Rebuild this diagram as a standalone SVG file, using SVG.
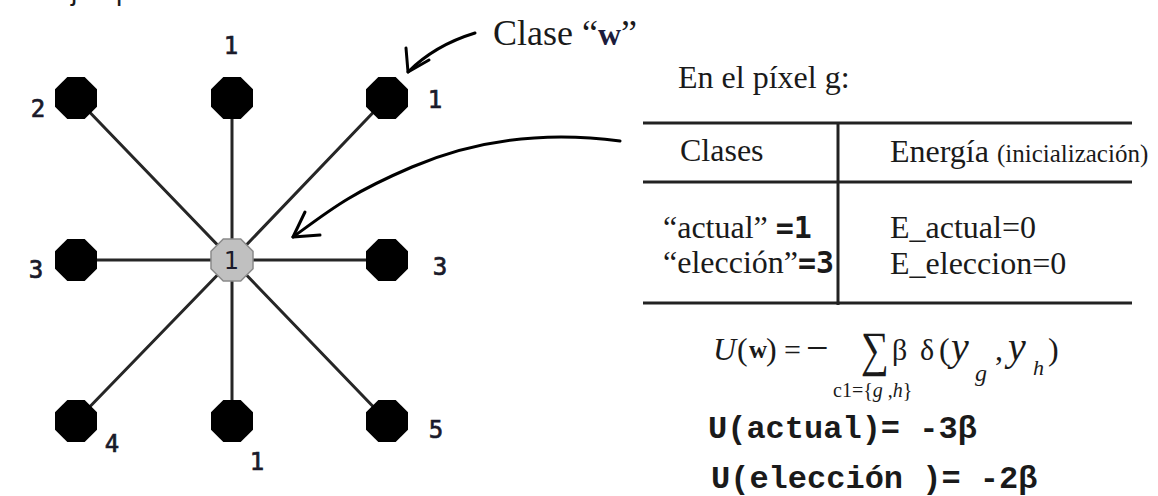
<svg xmlns="http://www.w3.org/2000/svg" xmlns:xlink="http://www.w3.org/1999/xlink" width="1158" height="496" viewBox="0 0 1158 496">
<defs>
<style>
.bg{fill:#ffffff}
.oct{fill:#000000}
.octc{fill:#c0c0c0;stroke:#8a8a8a;stroke-width:1.5}
.edge{stroke:#262626;stroke-width:3;fill:none;stroke-linecap:round}
.arr{stroke:#000;stroke-width:3;fill:none;stroke-linecap:round;stroke-linejoin:round}
.dig{font-family:"DejaVu Sans Mono","Liberation Mono",monospace;font-size:24px;fill:#1a1a2a;stroke:#1a1a2a;stroke-width:0.7}
.dign{font-family:"DejaVu Sans Mono","Liberation Mono",monospace;font-size:25px;fill:#1a1a2a}
.ser{font-family:"Liberation Serif","DejaVu Serif",serif;fill:#1a1a1a}
.sans{font-family:"Liberation Sans","DejaVu Sans",sans-serif;fill:#1a1a1a}
.mono{font-family:"Liberation Mono","Courier New",monospace;font-weight:bold;fill:#1a1a1a}
.smono{font-family:"DejaVu Sans Mono","Liberation Mono",monospace;font-weight:bold;fill:#1a1a1a}
.tl{stroke:#222;stroke-width:3;fill:none}
</style>
<polygon id="octShape" points="-8.7,-21 8.7,-21 21,-8.7 21,8.7 8.7,21 -8.7,21 -21,8.7 -21,-8.7"/>
</defs>
<rect class="bg" x="0" y="0" width="1158" height="496"/>

<text class="sans" x="4" y="-0.5" font-size="28">Por ejemplo:</text>

<g id="connectors">
<line class="edge" x1="232" y1="260" x2="76" y2="98"/>
<line class="edge" x1="232" y1="260" x2="232" y2="98"/>
<line class="edge" x1="232" y1="260" x2="387" y2="98"/>
<line class="edge" x1="232" y1="260" x2="76" y2="260"/>
<line class="edge" x1="232" y1="260" x2="387" y2="260"/>
<line class="edge" x1="232" y1="260" x2="76" y2="421"/>
<line class="edge" x1="232" y1="260" x2="232" y2="421"/>
<line class="edge" x1="232" y1="260" x2="387" y2="421"/>
<path class="arr" d="M475,33 C452,40 428,52 408,72"/>
<path class="arr" d="M406,48 L408,72 L429,60"/>
<path class="arr" d="M620,141 C545,131 475,140 412,167 S330,210 293,237"/>
<path class="arr" d="M305,212 L293,237 L320,235"/>
</g>

<g id="node-top-left">
<use href="#octShape" xlink:href="#octShape" class="oct" x="76" y="98"/>
<text class="dig" x="38" y="117" text-anchor="middle">2</text>
</g>
<g id="node-top-mid">
<use href="#octShape" xlink:href="#octShape" class="oct" x="232" y="98"/>
<text class="dig" x="231" y="54" text-anchor="middle">1</text>
</g>
<g id="node-top-right">
<use href="#octShape" xlink:href="#octShape" class="oct" x="387" y="98"/>
<text class="dig" x="435" y="108" text-anchor="middle">1</text>
</g>
<g id="node-mid-left">
<use href="#octShape" xlink:href="#octShape" class="oct" x="76" y="260"/>
<text class="dig" x="36" y="278" text-anchor="middle">3</text>
</g>
<g id="node-center">
<use href="#octShape" xlink:href="#octShape" class="octc" x="232" y="260"/>
<text class="dign" x="231" y="269" text-anchor="middle">1</text>
</g>
<g id="node-mid-right">
<use href="#octShape" xlink:href="#octShape" class="oct" x="387" y="260"/>
<text class="dig" x="440" y="275" text-anchor="middle">3</text>
</g>
<g id="node-bot-left">
<use href="#octShape" xlink:href="#octShape" class="oct" x="76" y="421"/>
<text class="dig" x="112" y="452" text-anchor="middle">4</text>
</g>
<g id="node-bot-mid">
<use href="#octShape" xlink:href="#octShape" class="oct" x="232" y="421"/>
<text class="dig" x="257" y="470" text-anchor="middle">1</text>
</g>
<g id="node-bot-right">
<use href="#octShape" xlink:href="#octShape" class="oct" x="387" y="421"/>
<text class="dig" x="436" y="438" text-anchor="middle">5</text>
</g>

<g id="label-clase">
<text class="ser" x="493" y="45" font-size="36">Clase “<tspan font-weight="bold" font-size="32" fill="#1c1c3c">w</tspan>”</text>
</g>

<g id="table">
<text class="ser" x="678" y="88" font-size="32">En el píxel g:</text>
<line class="tl" x1="643" y1="123" x2="1132" y2="123"/>
<line class="tl" x1="643" y1="182" x2="1132" y2="182"/>
<line class="tl" x1="643" y1="303" x2="1132" y2="303"/>
<line class="tl" x1="838" y1="123" x2="838" y2="305"/>
<text class="ser" x="680" y="161" font-size="32">Clases</text>
<text class="ser" x="890" y="162" font-size="32">Energía <tspan font-size="25">(inicialización)</tspan></text>
<text class="ser" x="663" y="238" font-size="32">“actual” <tspan class="smono" font-size="30">=1</tspan></text>
<text class="ser" x="663" y="273" font-size="32">“elección”<tspan class="smono" font-size="30">=3</tspan></text>
<text class="ser" x="890" y="238" font-size="32">E_actual=0</text>
<text class="ser" x="890" y="274" font-size="32">E_eleccion=0</text>
</g>

<g id="formula">
<text class="ser" x="713" y="360" font-size="32" font-style="italic">U</text>
<text class="ser" x="737" y="360" font-size="32">(</text>
<text class="ser" x="749" y="358" font-size="25" font-weight="bold" fill="#1c1c3c">w</text>
<text class="ser" x="766" y="360" font-size="32">)</text>
<text class="ser" x="784" y="360" font-size="30">=</text>
<text class="ser" x="806" y="361" font-size="40">−</text>
<text class="ser" transform="translate(861,366) scale(1.15,1.45)" x="0" y="0" font-size="34">∑</text>
<text class="ser" x="892" y="360" font-size="30">β</text>
<text class="ser" x="920" y="360" font-size="30">δ</text>
<text class="ser" x="939" y="360" font-size="32">(</text>
<text class="ser" x="951" y="360" font-size="40" font-style="italic">y</text>
<text class="ser" x="975" y="381" font-size="24" font-style="italic">g</text>
<text class="ser" x="995" y="360" font-size="32">,</text>
<text class="ser" x="1008" y="360" font-size="40" font-style="italic">y</text>
<text class="ser" x="1033" y="375" font-size="22" font-style="italic">h</text>
<text class="ser" x="1048" y="360" font-size="32">)</text>
<text class="ser" x="833" y="397" font-size="20">c1={<tspan font-style="italic">g</tspan> ,<tspan font-style="italic">h</tspan>}</text>
<text class="mono" x="708" y="438" font-size="32">U(actual)= -3β</text>
<text class="mono" x="711" y="488" font-size="32">U(elección )= -2β</text>
</g>
</svg>
